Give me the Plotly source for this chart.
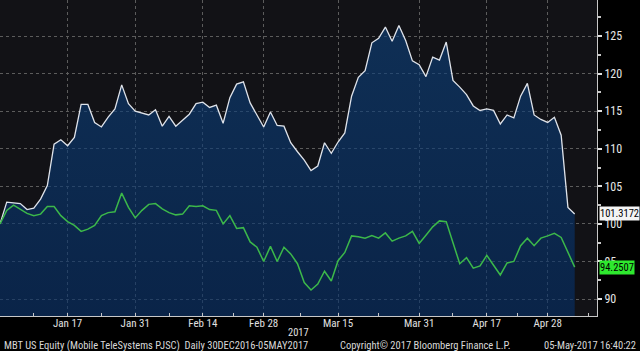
import plotly.graph_objects as go

# Trading days Dec 30 2016 .. May 4 2017
dates = (
    ["2016-12-30"]
    + [f"2017-01-{d:02d}" for d in [3, 4, 5, 6, 9, 10, 11, 12, 13, 17, 18, 19, 20, 23, 24, 25, 26, 27, 30, 31]]
    + [f"2017-02-{d:02d}" for d in [1, 2, 3, 6, 7, 8, 9, 10, 13, 14, 15, 16, 17, 21, 22, 23, 24, 27, 28]]
    + [f"2017-03-{d:02d}" for d in [1, 2, 3, 6, 7, 8, 9, 10, 13, 14, 15, 16, 17, 20, 21, 22, 23, 24, 27, 28, 29, 30, 31]]
    + [f"2017-04-{d:02d}" for d in [3, 4, 5, 6, 7, 10, 11, 12, 13, 17, 18, 19, 20, 21, 24, 25, 26, 27, 28]]
    + [f"2017-05-{d:02d}" for d in [1, 2, 3, 4]]
)

mbt = [100.0, 102.9, 102.8, 102.7, 101.9, 102.1, 103.3, 105.1, 110.6, 111.2,
       110.4, 111.5, 115.9, 115.9, 113.5, 112.9, 114.2, 115.3, 118.5, 116.0,
       115.0, 114.8, 114.5, 115.2, 113.0, 114.3, 113.0, 113.8, 114.6, 116.0,
       116.2, 115.5, 115.8, 113.4, 116.8, 118.6, 118.9, 116.1, 114.4, 112.9,
       114.9, 113.1, 113.0, 110.8, 109.6, 108.5, 107.1, 107.7, 110.8, 109.4,
       110.9, 112.1, 117.0, 119.5, 120.4, 124.1, 124.7, 126.2, 124.3, 126.4,
       124.4, 121.7, 121.2, 119.6, 122.2, 121.8, 124.2, 119.1, 118.2, 117.2,
       115.7, 115.1, 115.3, 115.1, 113.3, 114.5, 114.1, 117.0, 118.7, 114.5,
       113.9, 113.5, 114.2, 111.8, 102.2, 101.3172]

rel = [100.0, 101.8, 102.5, 102.0, 101.4, 101.1, 101.3, 102.3, 102.3, 101.1,
       100.3, 99.8, 99.0, 99.3, 99.8, 101.1, 101.5, 101.6, 104.1, 102.2,
       100.8, 101.8, 102.6, 102.7, 102.0, 101.5, 101.2, 101.3, 102.4, 102.3,
       102.4, 101.9, 101.8, 100.0, 101.1, 99.4, 99.5, 97.6, 96.9, 95.0,
       97.0, 95.0, 96.9, 96.0, 94.7, 92.2, 91.2, 92.0, 93.7, 92.4,
       95.1, 96.2, 98.4, 98.3, 98.1, 98.45, 98.1, 98.8, 97.7, 98.1,
       98.4, 99.0, 97.4, 98.5, 99.6, 100.4, 100.3, 97.5, 94.7, 95.5,
       94.1, 94.4, 95.8, 94.5, 93.2, 94.8, 95.0, 97.1, 98.1, 97.1,
       98.1, 98.4, 98.75, 98.2, 96.2, 94.2507]

tick_dates = ["2017-01-17", "2017-01-31", "2017-02-14", "2017-02-28",
              "2017-03-15", "2017-03-31", "2017-04-17", "2017-04-28"]
tick_labels = ["Jan 17", "Jan 31", "Feb 14", "Feb 28", "Mar 15", "Mar 31", "Apr 17", "Apr 28"]
y_ticks = [90, 95, 100, 105, 110, 115, 120, 125]

x = list(range(len(dates)))
tickpos = [dates.index(d) for d in tick_dates]
minor_pos = [(a + b) / 2 for a, b in zip([0] + tickpos, tickpos + [tickpos[-1] + 12])]

FONT = "Liberation Sans Narrow, Arial Narrow, Roboto Condensed, DejaVu Sans Condensed, sans-serif"
GRID = "#5c5c5c"

fig = go.Figure()
fig.add_trace(go.Scatter(
    x=x, y=mbt, mode="lines",
    line=dict(color="#dfe3ea", width=1.3),
    fill="tozeroy",
    fillgradient=dict(type="vertical", start=87.7, stop=127,
                      colorscale=[[0, "rgba(5,47,103,0.62)"], [1, "rgba(13,65,124,0.62)"]]),
    hoverinfo="skip", showlegend=False))
fig.add_trace(go.Scatter(
    x=x, y=rel, mode="lines",
    line=dict(color="#3cb84a", width=1.5),
    hoverinfo="skip", showlegend=False))

fig.update_layout(
    width=640, height=351,
    margin=dict(l=0, r=43, t=0, b=35),
    paper_bgcolor="#000000", plot_bgcolor="#121216",
    font=dict(family=FONT, color="#e6e6e6", size=11),
    xaxis=dict(range=[0, 88.3], tickmode="array", tickvals=tickpos, ticktext=tick_labels,
               showgrid=True, gridcolor=GRID, griddash="dot", gridwidth=1,
               showline=True, linecolor="#c8c8c8", linewidth=1,
               ticks="inside", ticklen=3, tickcolor="#c8c8c8",
               ticklabelstandoff=-3,
               tickfont=dict(size=11, color="#e0e0e0"),
               minor=dict(tickmode="array", tickvals=minor_pos, ticks="inside",
                          ticklen=3, tickcolor="#c8c8c8", showgrid=False),
               zeroline=False, fixedrange=True),
    yaxis=dict(side="right", range=[87.74, 129.8], tickmode="array", tickvals=y_ticks,
               showgrid=True, gridcolor=GRID, griddash="dot", gridwidth=1,
               showline=True, linecolor="#c8c8c8", linewidth=1,
               ticks="outside", ticklen=4, tickcolor="#e0e0e0", tickwidth=2,
               tickfont=dict(size=12, color="#e6e6e6"),
               minor=dict(tickmode="array", tickvals=[v + 2.5 for v in [87.5 - 2.5] + y_ticks],
                          ticks="outside", ticklen=3, tickcolor="#c8c8c8", showgrid=False),
               zeroline=False, fixedrange=True),
)

# last value labels
fig.add_annotation(xref="paper", x=1.0, xanchor="left", xshift=2, yref="y", y=mbt[-1],
                   text=f"{mbt[-1]:.4f}", showarrow=False, bgcolor="#f4f4f4",
                   font=dict(color="#000000", size=10.5, family=FONT), borderpad=0)
fig.add_annotation(xref="paper", x=1.0, xanchor="left", xshift=2, yref="y", y=rel[-1],
                   text=f"{rel[-1]:.4f}", showarrow=False, bgcolor="#2ee82e",
                   font=dict(color="#000000", size=10.5, family=FONT), borderpad=0)

fig.add_annotation(xref="paper", yref="paper", x=298 / 597, y=-0.052, text="2017",
                   showarrow=False, xanchor="center", yanchor="middle",
                   font=dict(size=10.5, color="#e0e0e0", family=FONT))
fig.add_annotation(xref="paper", yref="paper", x=2 / 597, y=-0.093,
                   text="MBT US Equity (Mobile TeleSystems PJSC)  Daily 30DEC2016-05MAY2017",
                   showarrow=False, xanchor="left", yanchor="middle",
                   font=dict(size=10.5, color="#d8d8d8", family=FONT))
fig.add_annotation(xref="paper", yref="paper", x=338 / 597, y=-0.093,
                   text="Copyright© 2017 Bloomberg Finance L.P.",
                   showarrow=False, xanchor="left", yanchor="middle",
                   font=dict(size=10.5, color="#d8d8d8", family=FONT))
fig.add_annotation(xref="paper", yref="paper", x=638 / 597, y=-0.093,
                   text="05-May-2017 16:40:22",
                   showarrow=False, xanchor="right", yanchor="middle",
                   font=dict(size=10.5, color="#d8d8d8", family=FONT))

fig.write_html("out.html")
